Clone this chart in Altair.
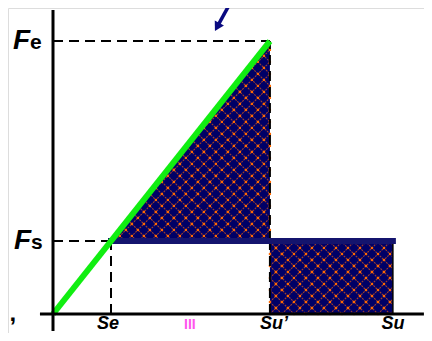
import altair as alt
import numpy as np
import pandas as pd

# ---- key values (data units; equal scale on both axes) ----
S_E, S_U1, S_U = 2.0, 7.48, 11.72          # Se, Su', Su
F_S, F_E = 2.52, 9.41                      # Fs, Fe

X_DOMAIN = [-1.552, 12.793]
Y_DOMAIN = [-0.655, 10.552]
X_AXIS_SPAN = [-0.45, 12.79]
Y_AXIS_SPAN = [-0.59, 10.48]

ARROW_FROM = [6.17, 10.83]
ARROW_TO = [5.66, 9.90]

HATCH_STEP = 0.414

NAVY = "#000066"
GREEN = "#11ee11"

W, H = 416, 325
xs = alt.Scale(domain=X_DOMAIN, nice=False, zero=False)
ys = alt.Scale(domain=Y_DOMAIN, nice=False, zero=False)


def X(f="x"):
    return alt.X(f"{f}:Q", scale=xs, axis=None)


def Y(f="y"):
    return alt.Y(f"{f}:Q", scale=ys, axis=None)


# ---- shaded regions ----
tri = [(S_E, F_S), (S_U1, F_E), (S_U1, F_S)]
rect = [(S_U1, 0.0), (S_U, 0.0), (S_U, F_S), (S_U1, F_S)]

tri_df = pd.DataFrame({"x": [S_E, S_U1], "y": [F_S, F_E], "y2": [F_S, F_S]})
rect_df = pd.DataFrame({"x": [S_U1], "x2": [S_U], "y": [0.0], "y2": [F_S]})

tri_area = alt.Chart(tri_df).mark_area(color=NAVY, opacity=1).encode(
    x=X(), y=Y(), y2="y2:Q")
rect_mark = alt.Chart(rect_df).mark_rect(color=NAVY).encode(
    x=X(), x2="x2:Q", y=Y(), y2="y2:Q")


def clip_line(p0, d, poly):
    ts = []
    n = len(poly)
    for i in range(n):
        a = np.array(poly[i]); b = np.array(poly[(i + 1) % n])
        e = b - a
        r = a - p0
        det = -d[0] * e[1] + e[0] * d[1]
        if abs(det) < 1e-12:
            continue
        t = (-r[0] * e[1] + e[0] * r[1]) / det
        s = (d[0] * r[1] - d[1] * r[0]) / det
        if -1e-9 <= s <= 1 + 1e-9:
            ts.append(t)
    if len(ts) < 2:
        return None
    t0, t1 = min(ts), max(ts)
    if t1 - t0 < 1e-6:
        return None
    return p0 + t0 * d, p0 + t1 * d


def inside(pt, poly):
    n = len(poly)
    sgn = None
    for i in range(n):
        a = poly[i]; b = poly[(i + 1) % n]
        c = (b[0] - a[0]) * (pt[1] - a[1]) - (b[1] - a[1]) * (pt[0] - a[0])
        if abs(c) < 1e-9:
            continue
        s = c > 0
        if sgn is None:
            sgn = s
        elif s != sgn:
            return False
    return True


segs = []
dots = []
ks = np.arange(-60, 60)
cvals = S_U1 + ks * HATCH_STEP
for poly in (tri, rect):
    for c in cvals:
        for d in (np.array([1.0, 1.0]), np.array([1.0, -1.0])):
            res = clip_line(np.array([c, 0.0]), d, poly)
            if res is not None:
                (a, b) = res
                segs.append({"x": a[0], "y": a[1], "x2": b[0], "y2": b[1]})
    for c1 in cvals:
        for c2 in cvals:
            p = ((c1 + c2) / 2, (c1 - c2) / 2)
            if inside(p, poly):
                dots.append({"x": p[0], "y": p[1]})

hatch = alt.Chart(pd.DataFrame(segs)).mark_rule(
    color="#9c3f2e", strokeWidth=1.1, strokeDash=[2, 1]).encode(
    x=X(), y=Y(), x2="x2:Q", y2="y2:Q")
hatch_dots = alt.Chart(pd.DataFrame(dots)).mark_square(
    color="#ff6a00", size=5, opacity=1).encode(x=X(), y=Y())

# ---- dashed guide lines ----
dash_df = pd.DataFrame({
    "x": [0.0, 0.0, S_E, S_U1, S_U1],
    "x2": [S_U1, S_E, S_E, S_U1, S_U1],
    "y": [F_E, F_S, 0.0, F_S, 0.0],
    "y2": [F_E, F_S, F_S, F_E, F_S],
})
dashes = alt.Chart(dash_df).mark_rule(
    color="black", strokeWidth=2, strokeDash=[10, 6]).encode(
    x=X(), y=Y(), x2="x2:Q", y2="y2:Q")

edge_df = pd.DataFrame({"x": [S_U], "x2": [S_U], "y": [0.0], "y2": [F_S]})
edge = alt.Chart(edge_df).mark_rule(color="black", strokeWidth=1.5).encode(
    x=X(), y=Y(), x2="x2:Q", y2="y2:Q")

# ---- navy plateau line ----
plat_df = pd.DataFrame({"x": [S_E], "x2": [S_U], "y": [F_S], "y2": [F_S]})
plateau = alt.Chart(plat_df).mark_rule(
    color="#14146e", strokeWidth=6, strokeCap="square").encode(
    x=X(), y=Y(), x2="x2:Q", y2="y2:Q")

# ---- green loading line ----
green_df = pd.DataFrame({"x": [0.0, S_U1], "y": [0.0, F_E]})
green = alt.Chart(green_df).mark_line(color=GREEN, strokeWidth=6).encode(
    x=X(), y=Y())

# ---- axes ----
ax_df = pd.DataFrame({
    "x": [X_AXIS_SPAN[0], 0.0], "x2": [X_AXIS_SPAN[1], 0.0],
    "y": [0.0, Y_AXIS_SPAN[0]], "y2": [0.0, Y_AXIS_SPAN[1]],
})
axes = alt.Chart(ax_df).mark_rule(color="black", strokeWidth=3).encode(
    x=X(), y=Y(), x2="x2:Q", y2="y2:Q")

# ---- arrow ----
arr_df = pd.DataFrame({"x": [ARROW_FROM[0]], "y": [ARROW_FROM[1]],
                       "x2": [ARROW_TO[0]], "y2": [ARROW_TO[1]]})
arrow_shaft = alt.Chart(arr_df).mark_rule(color="#0a0a80", strokeWidth=3.5).encode(
    x=X(), y=Y(), x2="x2:Q", y2="y2:Q")
arrow_head = alt.Chart(pd.DataFrame({"x": [ARROW_TO[0]], "y": [ARROW_TO[1]]})).mark_point(
    shape="triangle-down", filled=True, color="#0a0a80", size=110, angle=29,
    opacity=1).encode(x=X(), y=Y())

# ---- labels ----
FONT = "Liberation Sans"


def label(text, x, y, size, dx, dy, align="left", italic=True, color="black",
          bold=True):
    df = pd.DataFrame({"x": [x], "y": [y], "t": [text]})
    return alt.Chart(df).mark_text(
        font=FONT, fontSize=size, fontWeight="bold" if bold else "normal",
        fontStyle="italic" if italic else "normal", color=color,
        align=align, baseline="alphabetic", dx=dx, dy=dy).encode(
        x=X(), y=Y(), text="t:N")


labels = [
    label("F", 0.0, F_E, 28, -40, 8),
    label("e", 0.0, F_E, 21, -23, 8, italic=False),
    label("F", 0.0, F_S, 28, -39, 8),
    label("s", 0.0, F_S, 21, -22, 8, italic=False),
    label("Se", S_E, 0.0, 18, -3, 15, align="center"),
    label("Su’", S_U1, 0.0, 18, 4, 15, align="center"),
    label("Su", S_U, 0.0, 18, 0, 15, align="center"),
    label("III", 4.72, 0.0, 14, 0, 15, align="center", italic=False,
          color="#ff55ee"),
    label(",", -1.50, 0.0, 24, 0, 7, italic=False),
]

chart = alt.layer(
    tri_area, rect_mark, hatch, hatch_dots, dashes, edge, plateau, green,
    axes, arrow_shaft, arrow_head, *labels
).properties(width=W, height=H, padding=0, autosize="none").configure_view(
    stroke=None).configure(background="white")

chart.save("out.html", embed_options={"renderer": "svg", "actions": False})
